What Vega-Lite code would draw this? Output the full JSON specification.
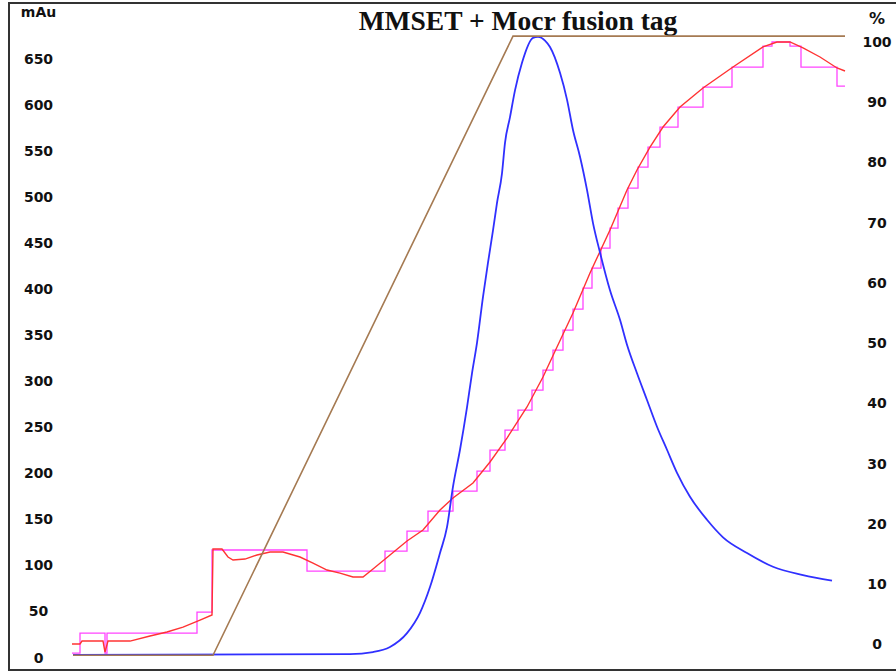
{
  "$schema": "https://vega.github.io/schema/vega-lite/v6.json",
  "autosize": {"type": "none"},
  "width": 889,
  "height": 667,
  "padding": {"left": 9, "top": 3, "right": 0, "bottom": 2},
  "background": "white",
  "config": {"view": {"stroke": "#333333", "strokeWidth": 2}},
  "datasets": {
    "uv": [
      {"vol": 6.4, "val": 3.3}, {"vol": 34.1, "val": 4.3}, {"vol": 36.4, "val": 6.5}, {"vol": 38.1, "val": 12},
      {"vol": 39.8, "val": 27}, {"vol": 41.1, "val": 49}, {"vol": 42.1, "val": 77}, {"vol": 43.1, "val": 114},
      {"vol": 43.8, "val": 142}, {"vol": 44.4, "val": 186}, {"vol": 45.1, "val": 226}, {"vol": 45.8, "val": 272},
      {"vol": 46.3, "val": 309}, {"vol": 46.8, "val": 342}, {"vol": 47.4, "val": 392}, {"vol": 47.9, "val": 429},
      {"vol": 48.4, "val": 464}, {"vol": 48.8, "val": 494}, {"vol": 49.3, "val": 526}, {"vol": 49.6, "val": 559},
      {"vol": 50.1, "val": 587}, {"vol": 50.6, "val": 616}, {"vol": 51.3, "val": 646}, {"vol": 52.4, "val": 673},
      {"vol": 52.9, "val": 674}, {"vol": 53.6, "val": 670}, {"vol": 54.1, "val": 663}, {"vol": 55.1, "val": 635},
      {"vol": 55.8, "val": 606}, {"vol": 56.4, "val": 573}, {"vol": 57.1, "val": 544}, {"vol": 57.8, "val": 508},
      {"vol": 58.4, "val": 472}, {"vol": 59.1, "val": 440}, {"vol": 60.1, "val": 399}, {"vol": 61.1, "val": 367},
      {"vol": 61.8, "val": 340}, {"vol": 62.8, "val": 309}, {"vol": 63.8, "val": 280}, {"vol": 64.8, "val": 251},
      {"vol": 65.8, "val": 226}, {"vol": 66.8, "val": 201}, {"vol": 68.1, "val": 175}, {"vol": 69.8, "val": 150},
      {"vol": 71.4, "val": 131}, {"vol": 73.8, "val": 114}, {"vol": 76.4, "val": 99}, {"vol": 79.4, "val": 90},
      {"vol": 82.3, "val": 84}
    ],
    "cond": [
      {"vol": 6.3, "val": 15.2}, {"vol": 7.1, "val": 15.2}, {"vol": 7.3, "val": 18.4}, {"vol": 9.4, "val": 18.4},
      {"vol": 9.6, "val": 6.5}, {"vol": 9.9, "val": 18.4}, {"vol": 12.1, "val": 18.4}, {"vol": 14.1, "val": 23.9},
      {"vol": 15.8, "val": 28.2}, {"vol": 17.4, "val": 33.6}, {"vol": 19.1, "val": 41.2}, {"vol": 20.3, "val": 46.7},
      {"vol": 20.4, "val": 118.3}, {"vol": 21.3, "val": 118.3}, {"vol": 21.9, "val": 109.6}, {"vol": 22.4, "val": 106.3},
      {"vol": 23.6, "val": 107.4}, {"vol": 24.8, "val": 111.8}, {"vol": 26.1, "val": 115.0}, {"vol": 27.4, "val": 115.0},
      {"vol": 29.1, "val": 109.6}, {"vol": 30.4, "val": 103.1}, {"vol": 31.8, "val": 95.5}, {"vol": 33.1, "val": 92.2},
      {"vol": 34.4, "val": 87.9}, {"vol": 35.4, "val": 87.9}, {"vol": 36.4, "val": 96.6}, {"vol": 38.1, "val": 111.8},
      {"vol": 39.8, "val": 127.0}, {"vol": 41.4, "val": 138.9}, {"vol": 43.1, "val": 160.6}, {"vol": 44.4, "val": 173.6},
      {"vol": 46.4, "val": 189.9}, {"vol": 48.1, "val": 212.7}, {"vol": 49.8, "val": 238.7}, {"vol": 51.8, "val": 272.4},
      {"vol": 53.4, "val": 304.9}, {"vol": 54.8, "val": 337.5}, {"vol": 56.4, "val": 374.4}, {"vol": 58.1, "val": 417.8},
      {"vol": 60.1, "val": 464.5}, {"vol": 61.8, "val": 507.9}, {"vol": 62.8, "val": 529.6}, {"vol": 64.1, "val": 554.5},
      {"vol": 65.4, "val": 576.2}, {"vol": 67.1, "val": 597.9}, {"vol": 69.4, "val": 618.6}, {"vol": 72.4, "val": 641.3},
      {"vol": 75.4, "val": 663.1}, {"vol": 76.8, "val": 668.5}, {"vol": 78.1, "val": 668.5}, {"vol": 79.4, "val": 662.0},
      {"vol": 81.1, "val": 652.2}, {"vol": 82.8, "val": 640.3}, {"vol": 83.6, "val": 637.0}
    ],
    "frac": [
      {"vol": 6.3, "val": 5.4}, {"vol": 7.1, "val": 27.1}, {"vol": 9.6, "val": 5.4}, {"vol": 9.8, "val": 27.1},
      {"vol": 18.8, "val": 49.9}, {"vol": 20.3, "val": 117.2}, {"vol": 29.8, "val": 94.4}, {"vol": 37.6, "val": 116.1},
      {"vol": 39.8, "val": 137.8}, {"vol": 41.9, "val": 159.5}, {"vol": 44.4, "val": 181.2}, {"vol": 46.8, "val": 202.9},
      {"vol": 48.1, "val": 225.7}, {"vol": 49.6, "val": 247.4}, {"vol": 50.9, "val": 269.1}, {"vol": 52.3, "val": 290.8},
      {"vol": 53.4, "val": 312.5}, {"vol": 54.4, "val": 334.2}, {"vol": 55.4, "val": 355.9}, {"vol": 56.4, "val": 378.7},
      {"vol": 57.4, "val": 401.5}, {"vol": 58.3, "val": 423.2}, {"vol": 59.2, "val": 444.9}, {"vol": 60.1, "val": 466.6},
      {"vol": 60.9, "val": 488.3}, {"vol": 61.9, "val": 510.0}, {"vol": 62.9, "val": 532.8}, {"vol": 63.9, "val": 554.5},
      {"vol": 65.1, "val": 576.2}, {"vol": 66.9, "val": 597.9}, {"vol": 69.4, "val": 619.6}, {"vol": 72.3, "val": 641.3},
      {"vol": 75.4, "val": 664.1}, {"vol": 76.3, "val": 668.5}, {"vol": 78.1, "val": 664.1}, {"vol": 79.2, "val": 641.3},
      {"vol": 82.8, "val": 620.7}, {"vol": 83.6, "val": 620.7}
    ],
    "grad": [
      {"vol": 6.4, "val": -1.7}, {"vol": 20.4, "val": -1.7}, {"vol": 50.4, "val": 101}, {"vol": 83.6, "val": 101}
    ],
    "titles": [
      {"vol": 50.9, "val": 681.5, "label": "MMSET + Mocr fusion tag"}
    ]
  },
  "layer": [
    {
      "layer": [
        {
          "data": {"name": "frac"},
          "mark": {"type": "line", "interpolate": "step-after", "color": "#ff44ff", "strokeWidth": 1.3},
          "encoding": {
            "x": {"field": "vol", "type": "quantitative", "scale": {"domain": [0, 88.9], "nice": false, "zero": false}, "axis": null},
            "y": {"field": "val", "type": "quantitative", "scale": {"domain": [-13.0, 710.8], "nice": false, "zero": false},
              "axis": {"orient": "left", "values": [0, 50, 100, 150, 200, 250, 300, 350, 400, 450, 500, 550, 600, 650, 700], "labelExpr": "datum.value == 700 ? 'mAu' : datum.label", "ticks": false, "tickSize": 0, "domain": false, "grid": false, "title": null, "labelAlign": "center", "labelBaseline": "middle", "labelPadding": -29, "labelFont": "DejaVu Sans", "labelFontWeight": "bold", "labelFontSize": 14, "labelColor": "#111111", "labelOverlap": false, "labelBound": false}}
          }
        },
        {
          "data": {"name": "cond"},
          "mark": {"type": "line", "color": "#ff3333", "strokeWidth": 1.4},
          "encoding": {
            "x": {"field": "vol", "type": "quantitative", "scale": {"domain": [0, 88.9], "nice": false, "zero": false}, "axis": null},
            "y": {"field": "val", "type": "quantitative", "scale": {"domain": [-13.0, 710.8], "nice": false, "zero": false},
              "axis": {"orient": "left", "values": [0, 50, 100, 150, 200, 250, 300, 350, 400, 450, 500, 550, 600, 650, 700], "labelExpr": "datum.value == 700 ? 'mAu' : datum.label", "ticks": false, "tickSize": 0, "domain": false, "grid": false, "title": null, "labelAlign": "center", "labelBaseline": "middle", "labelPadding": -29, "labelFont": "DejaVu Sans", "labelFontWeight": "bold", "labelFontSize": 14, "labelColor": "#111111", "labelOverlap": false, "labelBound": false}}
          }
        },
        {
          "data": {"name": "uv"},
          "mark": {"type": "line", "interpolate": "monotone", "color": "#3030ff", "strokeWidth": 1.8},
          "encoding": {
            "x": {"field": "vol", "type": "quantitative", "scale": {"domain": [0, 88.9], "nice": false, "zero": false}, "axis": null},
            "y": {"field": "val", "type": "quantitative", "scale": {"domain": [-13.0, 710.8], "nice": false, "zero": false},
              "axis": {"orient": "left", "values": [0, 50, 100, 150, 200, 250, 300, 350, 400, 450, 500, 550, 600, 650, 700], "labelExpr": "datum.value == 700 ? 'mAu' : datum.label", "ticks": false, "tickSize": 0, "domain": false, "grid": false, "title": null, "labelAlign": "center", "labelBaseline": "middle", "labelPadding": -29, "labelFont": "DejaVu Sans", "labelFontWeight": "bold", "labelFontSize": 14, "labelColor": "#111111", "labelOverlap": false, "labelBound": false}}
          }
        },
        {
          "data": {"name": "titles"},
          "mark": {"type": "text", "font": "Liberation Serif", "fontSize": 27.5, "fontWeight": "bold", "color": "#111111", "align": "center", "baseline": "alphabetic"},
          "encoding": {
            "text": {"field": "label", "type": "nominal"},
            "x": {"field": "vol", "type": "quantitative", "scale": {"domain": [0, 88.9], "nice": false, "zero": false}, "axis": null},
            "y": {"field": "val", "type": "quantitative", "scale": {"domain": [-13.0, 710.8], "nice": false, "zero": false},
              "axis": {"orient": "left", "values": [0, 50, 100, 150, 200, 250, 300, 350, 400, 450, 500, 550, 600, 650, 700], "labelExpr": "datum.value == 700 ? 'mAu' : datum.label", "ticks": false, "tickSize": 0, "domain": false, "grid": false, "title": null, "labelAlign": "center", "labelBaseline": "middle", "labelPadding": -29, "labelFont": "DejaVu Sans", "labelFontWeight": "bold", "labelFontSize": 14, "labelColor": "#111111", "labelOverlap": false, "labelBound": false}}
          }
        }
      ]
    },
    {
      "data": {"name": "grad"},
      "mark": {"type": "line", "color": "#a57a52", "strokeWidth": 1.6},
      "encoding": {
        "x": {"field": "vol", "type": "quantitative", "scale": {"domain": [0, 88.9], "nice": false, "zero": false}, "axis": null},
        "y": {"field": "val", "type": "quantitative", "scale": {"domain": [-4.15, 106.5], "nice": false, "zero": false},
          "axis": {"orient": "right", "values": [0, 10, 20, 30, 40, 50, 60, 70, 80, 90, 100, 104], "labelExpr": "datum.value > 101 ? '%' : datum.label", "ticks": false, "tickSize": 0, "domain": false, "grid": false, "title": null, "labelAlign": "center", "labelBaseline": "middle", "labelPadding": -21.5, "labelFont": "DejaVu Sans", "labelFontWeight": "bold", "labelFontSize": {"condition": {"test": "datum.value > 101", "value": 16}, "value": 14}, "labelColor": "#111111", "labelOverlap": false, "labelBound": false}}
      }
    }
  ],
  "resolve": {"scale": {"y": "independent"}}
}
